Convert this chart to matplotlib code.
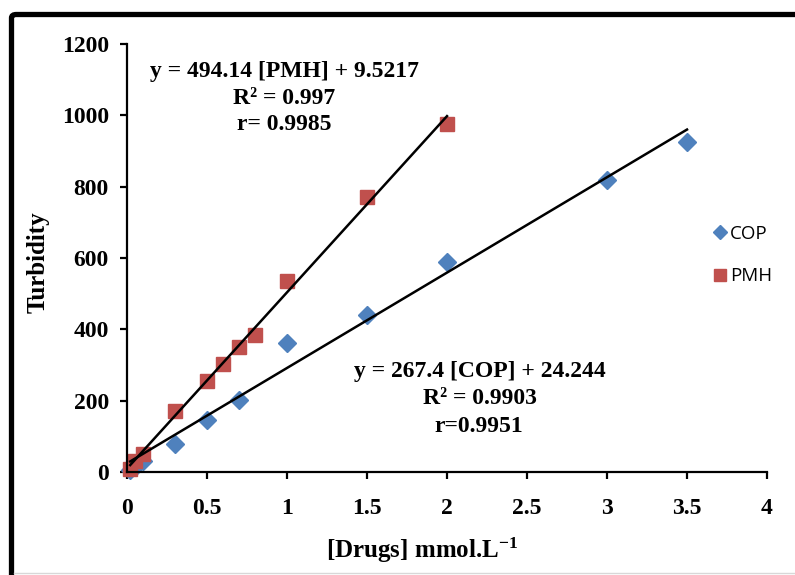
import matplotlib
matplotlib.use("Agg")
import matplotlib.pyplot as plt
import numpy as np
from matplotlib.patches import FancyBboxPatch
from matplotlib.lines import Line2D

# Data
cop_x = [0.02, 0.05, 0.1, 0.3, 0.5, 0.7, 1.0, 1.5, 2.0, 3.0, 3.5]
cop_y = [5, 15, 30, 78, 145, 202, 362, 440, 590, 820, 925]
pmh_x = [0.02, 0.05, 0.1, 0.3, 0.5, 0.6, 0.7, 0.8, 1.0, 1.5, 2.0]
pmh_y = [8, 30, 50, 170, 255, 302, 350, 385, 535, 772, 975]
cop_fit = (267.4, 24.244)
pmh_fit = (494.14, 9.5217)
x_ticks = [0, 0.5, 1, 1.5, 2, 2.5, 3, 3.5, 4]
x_tick_labels = ["0", "0.5", "1", "1.5", "2", "2.5", "3", "3.5", "4"]
y_ticks = [0, 200, 400, 600, 800, 1000, 1200]

BLUE = "#4F81BD"
RED = "#C0504D"
serif = "Liberation Serif"
plt.rcParams["mathtext.fontset"] = "custom"
plt.rcParams["mathtext.bf"] = "Liberation Serif:bold"
plt.rcParams["mathtext.rm"] = "Liberation Serif:bold"
plt.rcParams["mathtext.default"] = "bf"

fig = plt.figure(figsize=(7.95, 5.75), dpi=100)
W, H = 795, 575

# outer frame (cropped on right and bottom)
frame = FancyBboxPatch((11.5 / W, -0.05), 1.0, 1 - 14.5 / H + 0.05,
                       boxstyle="round,pad=0,rounding_size=0.006",
                       transform=fig.transFigure, fill=False,
                       edgecolor="black", linewidth=3.8, zorder=0)
fig.patches.append(frame)
fig.add_artist(Line2D([14 / W, 1], [1 - 572.5 / H] * 2, transform=fig.transFigure,
                      color="#d8d8d8", linewidth=1))

ax = fig.add_axes([127 / W, 1 - 472 / H, (767 - 127) / W, (472 - 44) / H])
ax.set_xlim(0, 4)
ax.set_ylim(0, 1200)

# trend lines
xl = np.array([min(cop_x), max(cop_x)])
ax.plot(xl, cop_fit[0] * xl + cop_fit[1], color="black", lw=1.8, zorder=3)
xl2 = np.array([min(pmh_x), max(pmh_x)])
ax.plot(xl2, pmh_fit[0] * xl2 + pmh_fit[1], color="black", lw=1.8, zorder=3)

ax.plot(cop_x, cop_y, linestyle="none", marker="D", ms=9.3, color=BLUE,
        label="COP", zorder=2, clip_on=False)
ax.plot(pmh_x, pmh_y, linestyle="none", marker="s", ms=10.5, color=RED,
        label="PMH", zorder=2, clip_on=False)

for s in ["top", "right"]:
    ax.spines[s].set_visible(False)
for s in ["left", "bottom"]:
    ax.spines[s].set_linewidth(1.6)

ax.set_xticks(x_ticks)
ax.set_xticklabels(x_tick_labels)
ax.set_yticks(y_ticks)
ax.tick_params(direction="out", length=5, width=1.6)
ax.tick_params(axis="x", pad=14)
ax.tick_params(axis="y", pad=8)
for lab in ax.get_xticklabels() + ax.get_yticklabels():
    lab.set_fontfamily(serif)
    lab.set_fontweight("bold")
    lab.set_fontsize(17)

fig.text(422 / W, 1 - 550 / H, "[Drugs] mmol.L$^{-1}$", fontfamily=serif,
         fontweight="bold", fontsize=18, ha="center", va="center")
fig.text(38 / W, 1 - 262 / H, "Turbidity", fontfamily=serif, fontweight="bold",
         fontsize=18, ha="center", va="center", rotation=90)

def px2data(px, py):
    return (px - 127) / 160.0, (472 - py) / (428 / 1200)

tk = dict(fontfamily=serif, fontweight="bold", fontsize=17, ha="center", va="center")
for (px, py), s in zip([(284, 72), (284, 98), (284, 125)],
                       ["y = 494.14 [PMH] + 9.5217", "R² = 0.997", "r= 0.9985"]):
    ax.text(*px2data(px, py), s, **tk)
for (px, py), s in zip([(480, 372), (480, 398), (479, 427)],
                       ["y = 267.4 [COP] + 24.244", "R² = 0.9903", "r=0.9951"]):
    ax.text(*px2data(px, py), s, **tk)

leg = ax.legend(loc="center left", bbox_to_anchor=(703 / W, 1 - 255 / H),
                bbox_transform=fig.transFigure, frameon=False,
                prop={"family": "Open Sans", "size": 13.5}, handletextpad=0.05,
                handlelength=1.0, labelspacing=1.3, borderaxespad=0,
                markerscale=0.8)

fig.savefig("out.png", dpi=100)
